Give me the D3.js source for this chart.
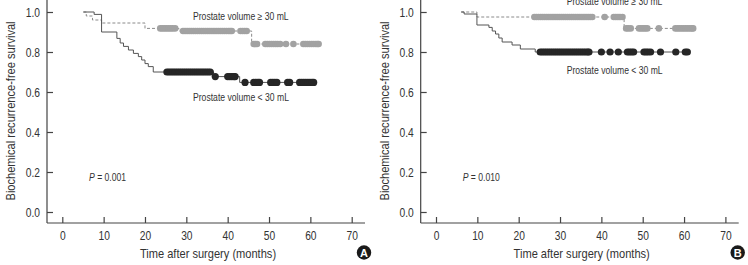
<!DOCTYPE html>
<html><head><meta charset="utf-8">
<script src="https://cdn.jsdelivr.net/npm/d3@7"></script>
<style>
html,body{margin:0;padding:0;background:#fff;}
svg{display:block;}
text{font-family:"Liberation Sans",Arial,sans-serif;fill:#333;}
</style></head><body>
<svg id="c" width="748" height="265"></svg>
<script>
// ---- data ----
const xTicks = [0, 10, 20, 30, 40, 50, 60, 70];
const yTicks = [0.0, 0.2, 0.4, 0.6, 0.8, 1.0];

// Panel A, prostate volume < 30 mL (event times / survival)
const aLowTimes = [5.1, 7.7, 9.5, 13.2, 14.0, 14.8, 16.0, 17.2, 18.4, 19.2, 20.0, 20.8, 22.0, 36.6, 42.9];
const aLowSurv  = [1.0, 0.988, 0.90, 0.868, 0.845, 0.828, 0.81, 0.793, 0.777, 0.76, 0.742, 0.727, 0.70, 0.677, 0.648];
const aLowCens  = [25.3, 25.8, 26.3, 26.8, 27.3, 27.8, 28.3, 28.8, 29.3, 29.8, 30.3, 30.8, 31.3, 31.8, 32.3, 32.8, 33.3, 33.8, 34.3, 34.8, 35.3, 35.8,
                   37.0, 40.0, 40.5, 41.0, 41.5, 41.8,
                   44.2, 46.3, 46.8, 47.3, 47.7, 50.4, 50.9, 51.4, 51.9, 54.5, 55.0, 57.4, 57.9, 58.4, 58.9, 59.4, 59.9, 60.4, 60.8];
// Panel A, prostate volume >= 30 mL
const aHighTimes = [5.1, 5.8, 7.3, 9.5, 20.0, 28.2, 45.8];
const aHighSurv  = [1.0, 0.98, 0.96, 0.945, 0.918, 0.905, 0.84];
const aHighCens  = [23.7, 24.2, 24.7, 25.2, 25.7, 26.2, 26.7, 27.3,
                    29.2, 29.7, 30.2, 30.7, 31.2, 31.7, 32.2, 32.7, 33.2, 33.7, 34.2, 34.7, 35.2, 35.7, 36.2, 36.7, 37.2, 37.7, 38.2, 38.7, 39.2, 39.7, 40.2, 40.6, 41.0,
                    43.1, 43.6, 44.1, 44.6,
                    46.3, 46.7, 47.1, 49.1, 49.6, 50.1, 50.6, 51.1, 51.6, 52.1, 52.7, 54.1, 55.9, 58.3, 58.8, 59.3, 59.8, 60.3, 60.8, 61.3, 61.7, 62.0];

// Panel B, prostate volume < 30 mL
const bLowTimes = [6.1, 6.8, 9.9, 12.8, 13.6, 14.4, 15.2, 16.0, 18.4, 20.4, 24.0];
const bLowSurv  = [1.0, 0.99, 0.935, 0.923, 0.905, 0.89, 0.87, 0.85, 0.835, 0.815, 0.80];
const bLowCens  = [25.2, 25.7, 26.2, 26.7, 27.2, 27.7, 28.2, 28.7, 29.2, 29.7, 30.2, 30.7, 31.2, 31.7, 32.2, 32.7, 33.2, 33.7, 34.2, 34.7, 35.2, 35.7, 36.2, 36.7, 37.0,
                   40.0, 42.1, 44.1, 46.3, 46.8, 47.3, 47.8, 50.3, 50.8, 51.3, 51.9, 54.3, 58.0, 60.3, 60.8];
// Panel B, prostate volume >= 30 mL
const bHighTimes = [6.1, 9.9, 45.5];
const bHighSurv  = [1.0, 0.975, 0.918];
const bHighCens  = [23.8, 24.3, 24.8, 25.3, 25.8, 26.3, 26.8, 27.3, 27.8, 28.3, 28.8, 29.3, 29.8, 30.3, 30.8, 31.3, 31.8, 32.3, 32.8, 33.3, 33.8, 34.3, 34.8, 35.3, 35.8, 36.3, 36.8, 37.3, 37.8,
                    40.8, 43.0, 43.5, 44.0, 44.5, 45.1,
                    46.0, 46.5, 47.1, 49.1, 49.6, 50.1, 50.6, 51.1, 53.9, 57.9, 58.4, 58.9, 59.4, 59.9, 60.4, 60.9, 61.4, 61.9, 62.2];

const panels = [
  {id: "A", pText: "0.001", low: [aLowTimes, aLowSurv, aLowCens], high: [aHighTimes, aHighSurv, aHighCens], highLabelY: 20, lowLabelY: 101},
  {id: "B", pText: "0.010", low: [bLowTimes, bLowSurv, bLowCens], high: [bHighTimes, bHighSurv, bHighCens], highLabelY: 5, lowLabelY: 74}
];

// ---- drawing ----
const svg = d3.select("#c");
const x = d3.scaleLinear().domain([0, 70]).range([62.3, 351.7]);
const y = d3.scaleLinear().domain([0, 1]).range([212, 12]);
const axisX0 = 47, axisY0 = 223;
const axisColor = "#444";

function survAt(times, surv, t) {
  let s = surv[0];
  for (let i = 0; i < times.length; i++) if (times[i] <= t) s = surv[i];
  return s;
}

function drawGroup(g, data, opts) {
  const [times, surv, cens] = data;
  const tEnd = Math.max(times[times.length - 1], d3.max(cens));
  const pts = times.map((t, i) => [t, surv[i]]);
  pts.push([tEnd, surv[surv.length - 1]]);
  const line = d3.line().x(d => x(d[0])).y(d => y(d[1])).curve(d3.curveStepAfter);
  g.append("path").attr("d", line(pts))
    .attr("fill", "none").attr("stroke", opts.lineColor).attr("stroke-width", 1)
    .attr("stroke-dasharray", opts.dash || null);
  g.selectAll(null).data(cens).enter().append("circle")
    .attr("cx", d => x(d)).attr("cy", d => y(survAt(times, surv, d)))
    .attr("r", opts.r).attr("fill", opts.fill);
}

panels.forEach((p, k) => {
  const g = svg.append("g").attr("transform", `translate(${k * 373.7},0)`);

  // axis lines
  g.append("line").attr("x1", axisX0).attr("x2", axisX0).attr("y1", 0).attr("y2", axisY0)
    .attr("stroke", axisColor).attr("stroke-width", 1.2);
  g.append("line").attr("x1", axisX0).attr("x2", 365).attr("y1", axisY0).attr("y2", axisY0)
    .attr("stroke", axisColor).attr("stroke-width", 1.2);

  // x axis ticks (inward)
  const xa = g.append("g").attr("transform", `translate(0,${axisY0})`)
    .call(d3.axisBottom(x).tickValues(xTicks).tickSize(-6).tickPadding(8).tickSizeOuter(0).tickFormat(d3.format("d")));
  xa.select(".domain").remove();
  xa.selectAll(".tick line").attr("stroke", axisColor).attr("stroke-width", 1.2);
  xa.selectAll(".tick text").attr("font-size", 12.5).attr("fill", "#333").attr("font-family", null).attr("class", "narrow");

  // y axis ticks (inward)
  const ya = g.append("g").attr("transform", `translate(${axisX0},0)`)
    .call(d3.axisLeft(y).tickValues(yTicks).tickSize(-6).tickPadding(7).tickSizeOuter(0).tickFormat(d3.format(".1f")));
  ya.select(".domain").remove();
  ya.selectAll(".tick line").attr("stroke", axisColor).attr("stroke-width", 1.2);
  ya.selectAll(".tick text").attr("font-size", 12.5).attr("fill", "#333").attr("font-family", null).attr("class", "narrow");

  // curves
  drawGroup(g, p.high, {lineColor: "#8a8a8a", dash: "3,2", fill: "#a2a2a2", r: 3.3});
  drawGroup(g, p.low, {lineColor: "#555", fill: "#262626", r: 3.6});

  // labels
  g.append("text").attr("class", "narrow").attr("x", 193).attr("y", p.highLabelY).attr("font-size", 10.5).text("Prostate volume \u2265 30 mL");
  g.append("text").attr("class", "narrow").attr("x", 193).attr("y", p.lowLabelY).attr("font-size", 10.5).text("Prostate volume < 30 mL");
  const pt = g.append("text").attr("class", "narrow").attr("x", 89).attr("y", 181).attr("font-size", 10.5);
  pt.append("tspan").attr("font-style", "italic").text("P");
  pt.append("tspan").text(" = " + p.pText);

  // axis titles
  g.append("text").attr("class", "narrow").attr("x", 208).attr("y", 258).attr("text-anchor", "middle").attr("font-size", 13.5)
    .text("Time after surgery (months)");
  g.append("text").attr("class", "narrow").attr("transform", "translate(15,111) rotate(-90)").attr("text-anchor", "middle").attr("font-size", 13.5)
    .text("Biochemical recurrence-free survival");

  // panel badge
  g.append("circle").attr("cx", 364).attr("cy", 252.5).attr("r", 7.2).attr("fill", "#1a1a1a");
  g.append("text").attr("x", 364).attr("y", 256.5).attr("text-anchor", "middle").attr("font-size", 11)
    .attr("font-weight", "bold").style("fill", "#fff").text(p.id);
});

// condensed look: compress the Helvetica-like face horizontally
svg.selectAll("text.narrow").each(function () {
  const w = this.getComputedTextLength();
  d3.select(this).attr("textLength", (w * 0.82).toFixed(2)).attr("lengthAdjust", "spacingAndGlyphs");
});
</script>
</body></html>
